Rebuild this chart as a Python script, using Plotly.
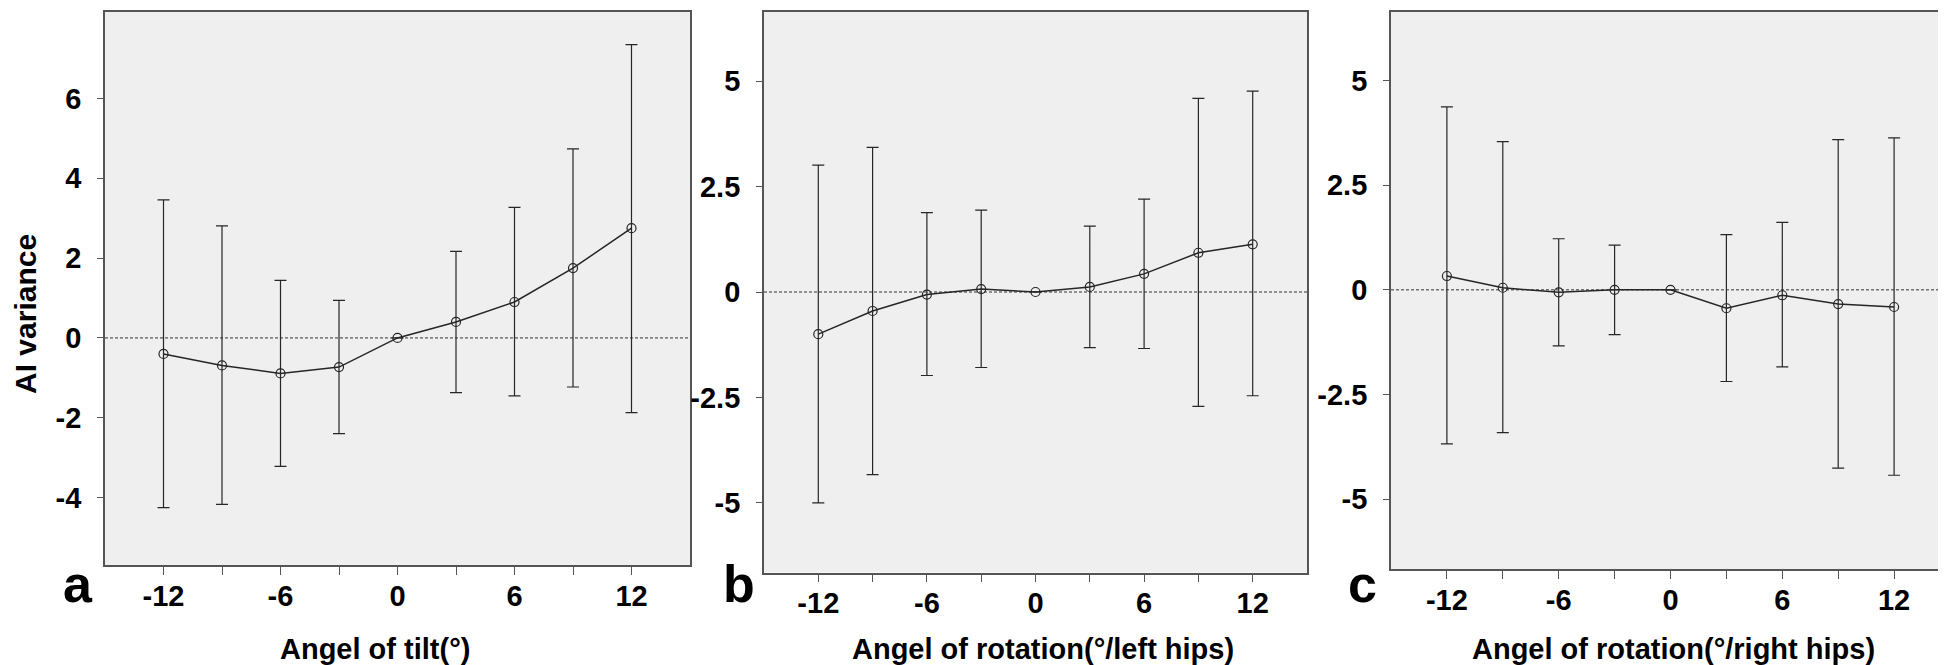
import plotly.graph_objects as go

# ---------------- data ----------------
angles = [-12, -9, -6, -3, 0, 3, 6, 9, 12]

tilt_mean  = [-0.40, -0.69, -0.89, -0.73, 0.0, 0.40, 0.90, 1.75, 2.75]
tilt_upper = [3.46, 2.81, 1.44, 0.94, None, 2.17, 3.27, 4.74, 7.35]
tilt_lower = [-4.25, -4.17, -3.22, -2.40, None, -1.37, -1.45, -1.23, -1.87]

left_mean  = [-1.00, -0.45, -0.06, 0.07, 0.0, 0.12, 0.43, 0.93, 1.13]
left_upper = [3.01, 3.43, 1.88, 1.94, None, 1.56, 2.20, 4.59, 4.76]
left_lower = [-5.00, -4.33, -1.98, -1.79, None, -1.32, -1.34, -2.71, -2.46]

right_mean  = [0.33, 0.05, -0.06, 0.0, 0.0, -0.44, -0.13, -0.34, -0.41]
right_upper = [4.37, 3.54, 1.22, 1.07, None, 1.32, 1.61, 3.59, 3.63]
right_lower = [-3.68, -3.41, -1.34, -1.07, None, -2.19, -1.84, -4.26, -4.43]

x_tickvals = [-12, -9, -6, -3, 0, 3, 6, 9, 12]
x_ticktext = ["-12", "", "-6", "", "0", "", "6", "", "12"]

y_ticks_a = [-4, -2, 0, 2, 4, 6]
y_ticks_a_text = ["-4", "-2", "0", "2", "4", "6"]
y_ticks_bc = [-5, -2.5, 0, 2.5, 5]
y_ticks_bc_text = ["-5", "-2.5", "0", "2.5", "5"]

x_titles = ["Angel of tilt(°)", "Angel of rotation(°/left hips)", "Angel of rotation(°/right hips)"]
panel_letters = ["a", "b", "c"]
y_title = "AI variance"

# ---------------- layout geometry ----------------
W, H = 1946, 665
FONT = "Liberation Sans, Arial, Helvetica, sans-serif"
INK = "#262626"
BORDER = "#555555"
PLOT_BG = "#efefef"

# pixel boxes (left, right, top, bottom)
boxes = [(97, 682, 3.5, 557), (756, 1299, 3.5, 564.5), (1383, 1942, 3.5, 561)]
yranges = [[-5.69, 8.18], [-6.65, 6.65], [-6.67, 6.65]]

series = [
    (tilt_mean, tilt_upper, tilt_lower),
    (left_mean, left_upper, left_lower),
    (right_mean, right_upper, right_lower),
]

fig = go.Figure()

def err(m, u, l):
    plus = [(uu - mm) if uu is not None else float("nan") for mm, uu in zip(m, u)]
    minus = [(mm - ll) if ll is not None else float("nan") for mm, ll in zip(m, l)]
    return plus, minus

for i, (m, u, l) in enumerate(series):
    plus, minus = err(m, u, l)
    xa = "x" if i == 0 else f"x{i+1}"
    ya = "y" if i == 0 else f"y{i+1}"
    fig.add_trace(go.Scatter(
        x=angles, y=m, xaxis=xa, yaxis=ya,
        mode="lines+markers",
        line=dict(color=INK, width=1.5),
        marker=dict(symbol="circle-open", size=9, color=INK, line=dict(width=1.2, color=INK)),
        error_y=dict(type="data", symmetric=False, array=plus, arrayminus=minus,
                     color=INK, thickness=1.2, width=6),
        showlegend=False, hoverinfo="skip",
    ))

layout = dict(
    width=W, height=H,
    margin=dict(l=0, r=0, t=0, b=0),
    paper_bgcolor="white",
    plot_bgcolor=PLOT_BG,
    font=dict(family=FONT, color="black"),
    showlegend=False,
)

for i, (l, r, t, b) in enumerate(boxes):
    xkey = "xaxis" if i == 0 else f"xaxis{i+1}"
    ykey = "yaxis" if i == 0 else f"yaxis{i+1}"
    xa = "x" if i == 0 else f"x{i+1}"
    ya = "y" if i == 0 else f"y{i+1}"
    layout[xkey] = dict(
        domain=[l / W, r / W], anchor=ya, range=[-15, 15],
        tickmode="array", tickvals=x_tickvals, ticktext=x_ticktext,
        ticks="outside", ticklen=8, tickwidth=1.3, tickcolor=BORDER,
        ticklabelstandoff=-4,
        tickfont=dict(size=29, family=FONT, weight="bold", color="black"),
        showline=True, linecolor=BORDER, linewidth=1.8, mirror=True,
        showgrid=False, zeroline=False, fixedrange=True,
    )
    if i == 0:
        tv, tt = y_ticks_a, y_ticks_a_text
    else:
        tv, tt = y_ticks_bc, y_ticks_bc_text
    layout[ykey] = dict(
        domain=[1 - b / H, 1 - t / H], anchor=xa, range=yranges[i],
        tickmode="array", tickvals=tv, ticktext=tt,
        ticks="outside", ticklen=6, tickwidth=1.3, tickcolor=BORDER,
        ticklabelstandoff=10,
        tickfont=dict(size=29, family=FONT, weight="bold", color="black"),
        showline=True, linecolor=BORDER, linewidth=1.8, mirror=True,
        showgrid=False, zeroline=False, fixedrange=True,
    )

fig.update_layout(**layout)

# dashed reference line at zero for each panel
for i in range(3):
    xa = "x" if i == 0 else f"x{i+1}"
    ya = "y" if i == 0 else f"y{i+1}"
    fig.add_shape(type="line", xref=f"{xa} domain", yref=ya, x0=0, x1=1, y0=0, y1=0,
                  line=dict(color="#333333", width=1, dash="3px,2px"), layer="below")

# axis titles and panel letters
title_centers = [367, 1035, 1665]
letter_x = [70, 731, 1354]
for i in range(3):
    fig.add_annotation(text=f"<b>{x_titles[i]}</b>", xref="paper", yref="paper",
                       x=title_centers[i] / W, y=1 - 641 / H, showarrow=False,
                       font=dict(size=29, family=FONT, color="black"),
                       xanchor="center", yanchor="middle")
    fig.add_annotation(text=f"<b>{panel_letters[i]}</b>", xref="paper", yref="paper",
                       x=letter_x[i] / W, y=1 - 576 / H, showarrow=False,
                       font=dict(size=52, family=FONT, color="black"),
                       xanchor="center", yanchor="middle")

fig.add_annotation(text=f"<b>{y_title}</b>", xref="paper", yref="paper",
                   x=17 / W, y=1 - 306 / H, showarrow=False, textangle=-90,
                   font=dict(size=30, family=FONT, color="black"),
                   xanchor="center", yanchor="middle")

fig.write_html("out.html")
